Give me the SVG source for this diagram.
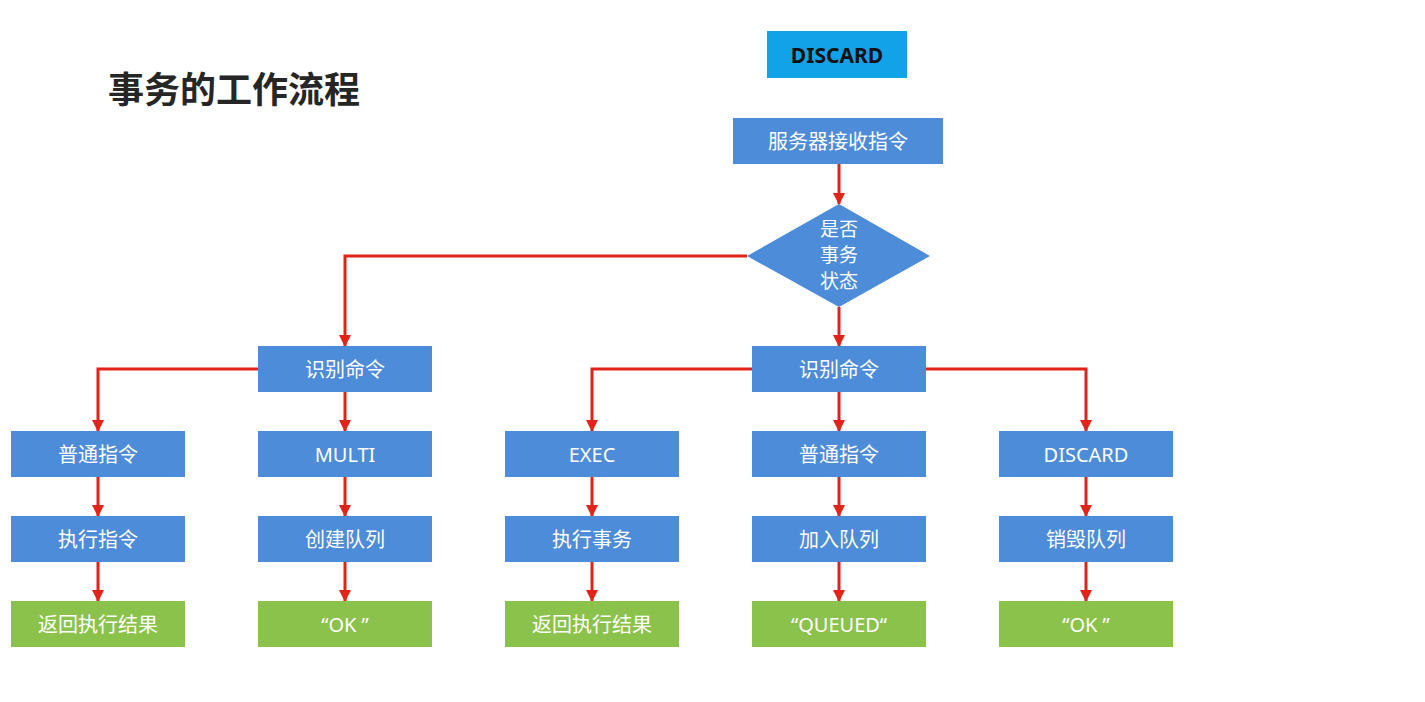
<svg xmlns="http://www.w3.org/2000/svg" width="1425" height="702" viewBox="0 0 1425 702">
<defs>
<marker id="ah" markerWidth="12" markerHeight="12" refX="11" refY="6" orient="auto" markerUnits="userSpaceOnUse" viewBox="0 0 12 12">
<path d="M0,0 L12,6 L0,12 Z" fill="#e2231a"/>
</marker>
<style>
.b{fill:#4d8cd9}
.g{fill:#8bc24c}
.t{font-family:"Noto Sans","Noto Sans CJK SC",sans-serif;font-size:20px;fill:#ffffff;text-anchor:middle;dominant-baseline:central}
.d{font-size:19px}
.c{fill:none;stroke:#e2231a;stroke-width:3;marker-end:url(#ah)}
</style>
</defs>
<rect width="1425" height="702" fill="#ffffff"/>
<text x="108" y="103" font-family="'Noto Sans CJK SC',sans-serif" font-size="36" font-weight="bold" fill="#262626">事务的工作流程</text>
<g id="discard-title"><rect x="767" y="31" width="140" height="47" fill="#12a2e8"/><text x="837" y="55" font-family="'Noto Sans',sans-serif" font-size="21" font-weight="bold" fill="#111" text-anchor="middle" dominant-baseline="central">DISCARD</text></g>
<g id="connectors">
<path class="c" d="M839,164 V204"/>
<path class="c" d="M747,256 H345 V346"/>
<path class="c" d="M839,307 V346"/>
<path class="c" d="M258,369 H98 V431"/>
<path class="c" d="M345,392 V431"/>
<path class="c" d="M752,369 H592 V431"/>
<path class="c" d="M839,392 V431"/>
<path class="c" d="M926,369 H1086 V431"/>
<path class="c" d="M98,477 V516"/>
<path class="c" d="M345,477 V516"/>
<path class="c" d="M592,477 V516"/>
<path class="c" d="M839,477 V516"/>
<path class="c" d="M1086,477 V516"/>
<path class="c" d="M98,562 V601"/>
<path class="c" d="M345,562 V601"/>
<path class="c" d="M592,562 V601"/>
<path class="c" d="M839,562 V601"/>
<path class="c" d="M1086,562 V601"/>
</g>
<g id="recv"><rect class="b" x="733" y="118" width="210" height="46"/><text class="t" x="838" y="141">服务器接收指令</text></g>
<g id="decision"><polygon class="b" points="839,204 930,256 839,307 747,256"/><text class="t d" x="839" y="229">是否</text><text class="t d" x="839" y="255">事务</text><text class="t d" x="839" y="281">状态</text></g>
<g id="id-left"><rect class="b" x="258" y="346" width="174" height="46"/><text class="t" x="345" y="369">识别命令</text></g>
<g id="id-right"><rect class="b" x="752" y="346" width="174" height="46"/><text class="t" x="839" y="369">识别命令</text></g>
<g id="n1"><rect class="b" x="11" y="431" width="174" height="46"/><text class="t" x="98" y="454">普通指令</text></g>
<g id="n2"><rect class="b" x="258" y="431" width="174" height="46"/><text class="t" x="345" y="454">MULTI</text></g>
<g id="n3"><rect class="b" x="505" y="431" width="174" height="46"/><text class="t" x="592" y="454">EXEC</text></g>
<g id="n4"><rect class="b" x="752" y="431" width="174" height="46"/><text class="t" x="839" y="454">普通指令</text></g>
<g id="n5"><rect class="b" x="999" y="431" width="174" height="46"/><text class="t" x="1086" y="454">DISCARD</text></g>
<g id="m1"><rect class="b" x="11" y="516" width="174" height="46"/><text class="t" x="98" y="539">执行指令</text></g>
<g id="m2"><rect class="b" x="258" y="516" width="174" height="46"/><text class="t" x="345" y="539">创建队列</text></g>
<g id="m3"><rect class="b" x="505" y="516" width="174" height="46"/><text class="t" x="592" y="539">执行事务</text></g>
<g id="m4"><rect class="b" x="752" y="516" width="174" height="46"/><text class="t" x="839" y="539">加入队列</text></g>
<g id="m5"><rect class="b" x="999" y="516" width="174" height="46"/><text class="t" x="1086" y="539">销毁队列</text></g>
<g id="r1"><rect class="g" x="11" y="601" width="174" height="46"/><text class="t" x="98" y="624">返回执行结果</text></g>
<g id="r2"><rect class="g" x="258" y="601" width="174" height="46"/><text class="t" x="345" y="624">“OK ”</text></g>
<g id="r3"><rect class="g" x="505" y="601" width="174" height="46"/><text class="t" x="592" y="624">返回执行结果</text></g>
<g id="r4"><rect class="g" x="752" y="601" width="174" height="46"/><text class="t" x="839" y="624">“QUEUED“</text></g>
<g id="r5"><rect class="g" x="999" y="601" width="174" height="46"/><text class="t" x="1086" y="624">“OK ”</text></g>
</svg>
